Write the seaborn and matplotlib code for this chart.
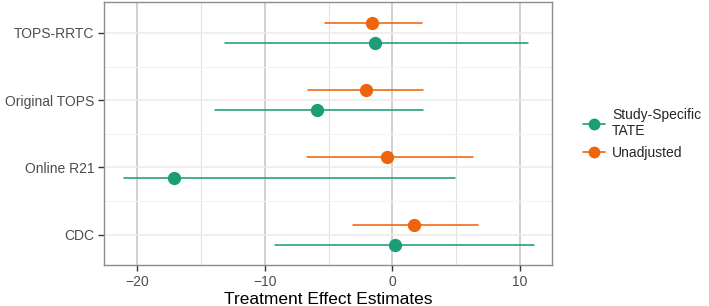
import matplotlib
matplotlib.use("Agg")
import matplotlib.pyplot as plt
from matplotlib.lines import Line2D
import seaborn as sns
import pandas as pd
import numpy as np

studies = ["TOPS-RRTC", "Original TOPS", "Online R21", "CDC"]
methods = ["Unadjusted", "Study-Specific TATE"]

unadj_est = [-1.6, -2.1, -0.4, 1.7]
unadj_low = [-5.3, -6.6, -6.7, -3.1]
unadj_high = [2.3, 2.4, 6.3, 6.7]

tate_est = [-1.4, -5.9, -17.1, 0.2]
tate_low = [-13.1, -13.9, -21.0, -9.2]
tate_high = [10.6, 2.4, 4.9, 11.1]

colors = {"Study-Specific TATE": "#1B9E77", "Unadjusted": "#EE640C"}

rows = []
for i, s in enumerate(studies):
    for m, est, lo, hi in (("Unadjusted", unadj_est, unadj_low, unadj_high),
                           ("Study-Specific TATE", tate_est, tate_low, tate_high)):
        for v in (lo[i], est[i], hi[i]):
            rows.append({"study": s, "method": m, "value": v})
df = pd.DataFrame(rows)

sns.set_style("white")
plt.rcParams["font.family"] = ["Liberation Sans", "DejaVu Sans"]

fig = plt.figure(figsize=(7.09, 3.06), dpi=100)
ax = fig.add_axes([104 / 709, 41 / 306, (552 - 104) / 709, (265 - 2) / 306])

sns.pointplot(data=df, x="value", y="study", hue="method", order=studies,
              hue_order=methods, palette=colors, estimator="median",
              errorbar=lambda v: (np.min(v), np.max(v)), dodge=0.3,
              linestyle="none", markers="o", markersize=7.5,
              err_kws={"linewidth": 1.15}, capsize=0, ax=ax, legend=False,
              zorder=3)

ax.set_xlim(-22.6, 12.5)
ax.set_ylim(3.45, -0.46)
ax.set_xticks([-20, -10, 0, 10])
ax.set_xticks([-15, -5, 5], minor=True)
ax.set_yticks(range(4))
ax.set_yticks([0.5, 1.5, 2.5], minor=True)
ax.set_yticklabels(studies)

ax.grid(True, which="major", axis="x", color="#c4c4c4", linewidth=1.1, zorder=0)
ax.grid(True, which="minor", axis="x", color="#e2e2e2", linewidth=0.8, zorder=0)
ax.grid(True, which="major", axis="y", color="#ebebeb", linewidth=1.1, zorder=0)
ax.grid(True, which="minor", axis="y", color="#f2f2f2", linewidth=0.8, zorder=0)
ax.set_axisbelow(True)

for sp in ax.spines.values():
    sp.set_visible(True)
    sp.set_color("#8c8c8c")
    sp.set_linewidth(1.0)

ax.tick_params(axis="both", which="major", length=4, width=1.0, color="#333333",
               labelsize=10, labelcolor="#4d4d4d", pad=3, bottom=True, left=True)
ax.tick_params(axis="both", which="minor", length=0)

ax.set_xlabel("Treatment Effect Estimates", fontsize=12.5, color="black", labelpad=2)
ax.set_ylabel("")

handles = [
    Line2D([0], [0], color=colors["Study-Specific TATE"], marker="o", markersize=7.5, linewidth=1.2),
    Line2D([0], [0], color=colors["Unadjusted"], marker="o", markersize=7.5, linewidth=1.2),
]
leg = fig.legend(handles, ["Study-Specific\nTATE", "Unadjusted"], loc="center left",
                 bbox_to_anchor=(580 / 709, 1 - 134 / 306), frameon=False,
                 fontsize=10, handlelength=1.6, handletextpad=0.5,
                 labelspacing=0.55, borderaxespad=0, borderpad=0.2)

fig.savefig("out.png", dpi=100)
